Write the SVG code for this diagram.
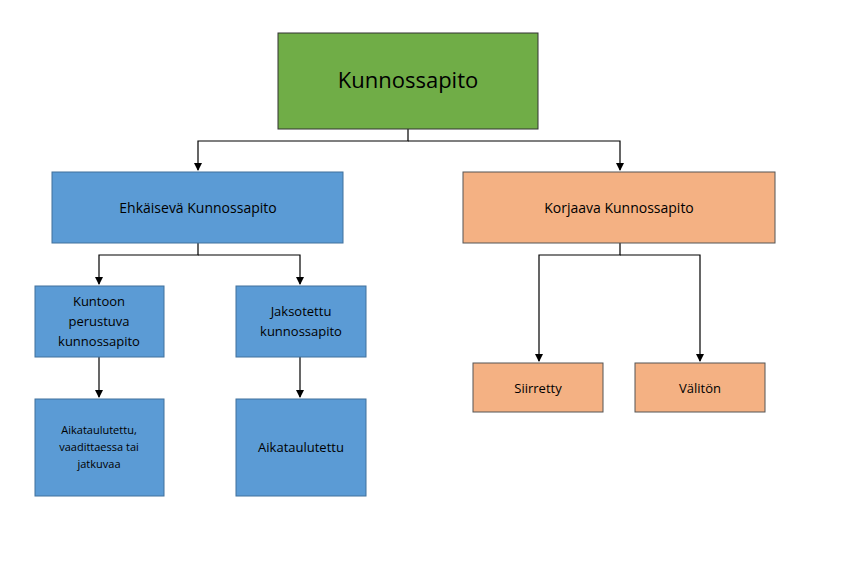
<svg xmlns="http://www.w3.org/2000/svg" width="853" height="580" viewBox="0 0 853 580">
<defs>
<marker id="ah" markerWidth="8" markerHeight="8" refX="7" refY="4" orient="auto" markerUnits="userSpaceOnUse"><path d="M0,0 L8,4 L0,8 z" fill="#000"/></marker>
<style>
.b{fill:#5B9BD5;stroke:#41719C;stroke-width:1}
.o{fill:#F4B183;stroke:#555;stroke-width:1}
.g{fill:#70AD47;stroke:#333;stroke-width:1}
text{font-family:"Open Sans","Liberation Sans",sans-serif;fill:#000;text-anchor:middle}
.c{fill:none;stroke:#000;stroke-width:1.2}
</style>
</defs>
<rect width="853" height="580" fill="#fff"/>
<g id="connectors">
<path class="c" d="M408,129 V141 H198 V170" marker-end="url(#ah)"/>
<path class="c" d="M408,141 H620 V170" marker-end="url(#ah)"/>
<path class="c" d="M198,243 V255 H99 V284" marker-end="url(#ah)"/>
<path class="c" d="M198,255 H300 V284" marker-end="url(#ah)"/>
<path class="c" d="M99,357 V397" marker-end="url(#ah)"/>
<path class="c" d="M300,357 V397" marker-end="url(#ah)"/>
<path class="c" d="M620,243 V255 H539 V361" marker-end="url(#ah)"/>
<path class="c" d="M620,255 H700 V361" marker-end="url(#ah)"/>
</g>
<g id="root"><rect class="g" x="278" y="33" width="260" height="96"/><text x="408" y="88" font-size="22">Kunnossapito</text></g>
<g id="ehk"><rect class="b" x="52" y="172" width="291" height="71"/><text x="198" y="213" font-size="14">Ehkäisevä Kunnossapito</text></g>
<g id="kor"><rect class="o" x="463" y="172" width="312" height="71"/><text x="619" y="213" font-size="14">Korjaava Kunnossapito</text></g>
<g id="kuntoon"><rect class="b" x="35" y="286" width="129" height="71"/><text font-size="13"><tspan x="99" y="306">Kuntoon</tspan><tspan x="99" y="326">perustuva</tspan><tspan x="99" y="346">kunnossapito</tspan></text></g>
<g id="jakso"><rect class="b" x="236" y="286" width="130" height="71"/><text font-size="13"><tspan x="301" y="316">Jaksotettu</tspan><tspan x="301" y="336">kunnossapito</tspan></text></g>
<g id="aika1"><rect class="b" x="35" y="399" width="129" height="97"/><text font-size="11"><tspan x="99" y="434">Aikataulutettu,</tspan><tspan x="99" y="451">vaadittaessa tai</tspan><tspan x="99" y="468">jatkuvaa</tspan></text></g>
<g id="aika2"><rect class="b" x="236" y="399" width="130" height="97"/><text x="301" y="452" font-size="13">Aikataulutettu</text></g>
<g id="siir"><rect class="o" x="473" y="363" width="130" height="49"/><text x="538" y="393" font-size="13">Siirretty</text></g>
<g id="valit"><rect class="o" x="635" y="363" width="130" height="49"/><text x="700" y="393" font-size="13">Välitön</text></g>
</svg>
